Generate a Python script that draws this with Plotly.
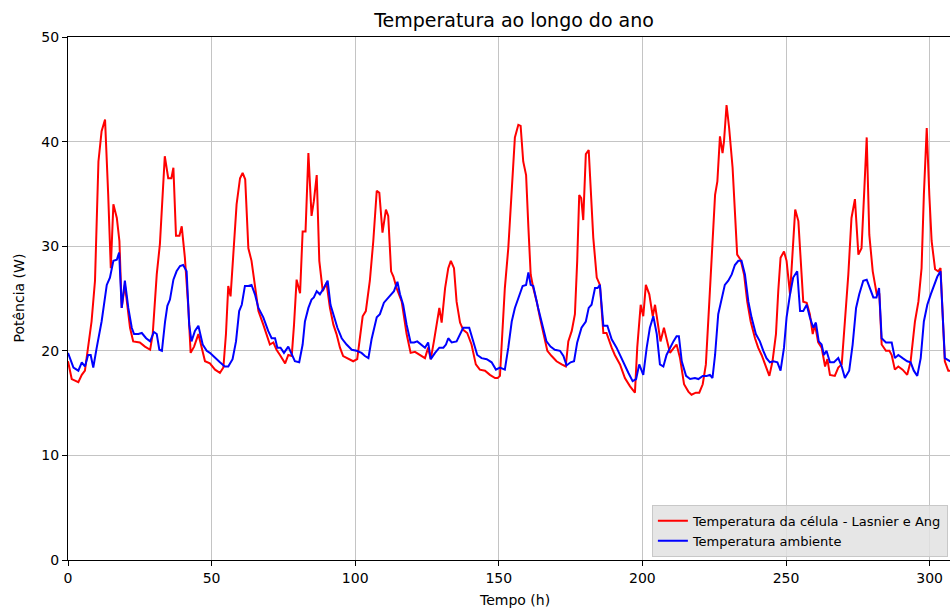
import plotly.graph_objects as go

# ---- data (hour, value) ----
cell_hours = [0, 1.3, 3.6, 4.8, 5.9, 7, 8.2, 9.4, 10.6, 11.7, 12.9, 14, 14.9, 15.8, 17, 17.9, 18.7, 19.8,
              21.6, 22.7, 25, 26.8, 28.6, 29.5, 30.9, 32, 33.7, 34.9, 36, 36.7, 37.6, 38.8, 39.6, 40.7,
              41.9, 42.7, 43.9, 45.4, 46.5, 47.7, 49.4, 51.2, 52.9, 54.1, 55, 55.8, 56.6, 57.5, 58.7,
              59.9, 60.8, 61.7, 62.8, 63.9, 65.1, 66.3, 68, 69.2, 70.3, 71.5, 72.6, 73.8, 75.6, 76.7,
              77.9, 78.7, 79.6, 80.8, 81.7, 82.7, 83.7, 84.8, 85.6, 86.6, 87.5, 88.7, 90.0, 91.2, 92.4,
              93.5, 94.7, 95.8, 97.6, 99.3, 100.7, 101.7, 102.6, 103.7, 105.1, 106.3, 107.5, 108.4,
              109.5, 110.7, 111.5, 112.5, 113.3, 114.4, 116.2, 117.9, 119.3, 120.8, 122.5, 124.3,
              125.4, 126.3, 127.4, 128.4, 129.3, 130.1, 131.3, 132.4, 133.3, 134.4, 135.3, 136.5,
              137.6, 139, 140.5, 142, 143.4, 145.2, 146.9, 148.7, 149.6, 150.4, 151, 152.1, 153.3,
              154.5, 155.6, 156.8, 157.6, 158.5, 159.5, 160.3, 161.1, 162, 163.2, 164.3, 165.5, 166.9,
              168.4, 170.1, 171.9, 173.3, 174.2, 175.4, 176.5, 177.3, 178, 178.7, 179.4, 180.3, 181.3,
              182, 182.9, 184.1, 185.2, 186.4, 187.5, 189.3, 190.4, 192.2, 193.9, 195.7, 197.4, 198.2,
              199.4, 200.3, 201.2, 202.4, 203.6, 204.4, 205.5, 206.3, 207.5, 208.7, 209.6, 211, 211.9,
              213.1, 214.5, 216, 217.1, 218.6, 219.8, 221, 222.1, 223.3, 224.4, 225.3, 226.1, 227,
              227.9, 228.4, 229.3, 230.2, 231.4, 232.2, 233, 234.2, 235.4, 236.5, 237.7, 239.2, 240.3,
              241.5, 243, 244.2, 245.3, 246.5, 247.3, 248.1, 249.3, 250.2, 251.4, 252.3, 253.2, 254.3,
              255.1, 256, 257.2, 258.3, 259.3, 260.1, 261.2, 262.4, 263.6, 264.4, 265.3, 267, 268.2,
              269.4, 270.5, 271.7, 272.8, 274, 275.2, 276.3, 277.3, 278.1, 279, 280.2, 281.6, 282.5,
              283.3, 284.8, 286, 286.8, 287.9, 289.1, 290.6, 292.2, 293.4, 294.9, 296.1, 297.2, 298,
              299, 299.9, 300.7, 301.9, 303, 303.8, 304.8, 305.3, 306.5, 307.1, 310]
cell_temp = [19.0, 17.3, 17.0, 17.7, 18.1, 20.6, 22.8, 26.7, 38.1, 41.0, 42.1, 34.9, 27.9, 34.0, 32.7, 30.5, 24.1, 26.3,
             22.2, 20.9, 20.8, 20.4, 20.1, 21.6, 27.3, 30.2, 38.6, 36.5, 36.5, 37.5, 31.0, 31.0, 31.9, 28.9,
             24.1, 19.8, 20.4, 21.6, 20.3, 19.0, 18.8, 18.2, 17.9, 18.4, 21.6, 26.2, 25.2, 29.2, 34.0,
             36.5, 37.0, 36.4, 29.8, 28.6, 26.3, 23.8, 22.5, 21.6, 20.6, 20.8, 20.1, 19.6, 18.8, 19.6,
             19.5, 22.5, 26.8, 25.5, 31.4, 31.4, 38.9, 32.9, 34.3, 36.8, 28.6, 25.7, 26.5, 24.1, 22.5,
             21.6, 20.3, 19.5, 19.2, 19.0, 19.2, 21.6, 23.3, 23.8, 26.7, 30.5, 35.3, 35.1,
             31.3, 33.5, 32.9, 27.6, 27.1, 26.0, 24.7, 21.6, 19.8, 19.9, 19.6, 19.3,
             20.3, 19.2, 20.9, 22.8, 24.1, 22.7, 26.0, 27.9, 28.6, 27.9, 24.7, 22.7,
             22.0, 21.7, 20.6, 18.7, 18.2, 18.1, 17.7, 17.4, 17.4, 17.6, 20.3, 26.0, 29.8,
             35.6, 40.4, 41.6, 41.5, 38.1, 36.8, 31.8, 27.3, 26.0, 24.7, 23.2, 21.6, 20.0,
             19.5, 19.0, 18.7, 18.5, 20.9, 21.9, 23.5, 28.6, 34.9, 34.6, 32.5, 38.8, 39.2,
             34.9, 30.8, 27.0, 26.3, 21.7, 21.7, 20.3, 19.6, 18.7, 17.4, 16.6, 16.0, 20.3,
             24.4, 23.3, 26.3, 25.4, 23.3, 24.4, 22.2, 20.9, 22.2, 20.9, 19.8, 20.3, 20.6,
             19.3, 16.8, 16.1, 15.8, 16.0, 16.0, 16.8, 18.7, 24.7, 31.1, 34.9, 36.2, 40.5,
             38.9, 40.0, 43.5, 41.3, 37.5, 33.0, 29.2, 28.7, 27.3, 24.7, 22.8, 21.2, 20.3,
             19.6, 18.5, 17.6, 19.0, 21.6, 25.7, 28.9, 29.5, 28.6, 25.4, 29.2, 33.5, 32.4,
             28.6, 24.7, 24.6, 23.5, 21.6, 22.5, 20.8, 20.3, 18.5, 19.2, 17.7, 17.6, 18.4,
             18.7, 22.8, 27.3, 32.7, 34.5, 29.2, 29.8, 35.6, 40.4, 31.1, 27.6, 25.4, 25.4,
             20.6, 20.0, 20.0, 19.6, 18.2, 18.5, 18.2, 17.7, 19.0, 22.8, 24.7, 27.9, 34.9,
             41.3, 34.9, 30.5, 27.8, 27.6, 27.9, 22.2, 19.0, 18.1, 18.1, 18.0]

amb_hours = [0, 1.9, 3.6, 4.8, 5.9, 7, 7.9, 8.8, 10, 11.7, 13.5, 14.6, 15.8, 17, 17.8, 18.7, 19.8, 21, 22.2,
             23, 24.5, 25.7, 27.2, 28.6, 29.9, 30.9, 31.8, 32.7, 33.8, 34.6, 35.5, 36.7, 37.8, 39, 40.1,
             41.3, 42.2, 43, 44.2, 45.4, 46.9, 48.3, 49.4, 51.2, 52.9, 54.6, 55.8, 57.3, 58.5, 59.6,
             60.5, 61.6, 62.8, 63.9, 65.1, 66.3, 68, 69.7, 70.9, 72.1, 72.9, 74, 75.2, 76.7, 77.9, 79,
             80.5, 81.7, 82.5, 83.7, 84.8, 85.6, 86.6, 87.7, 89.1, 90.4, 91.4, 92.6, 93.8, 95.3, 97,
             98.8, 100.5, 102.2, 103.4, 104.6, 105.7, 107.5, 108.6, 110, 111.5, 112.7, 113.5, 114.7,
             115.6, 116.7, 117.9, 119.3, 120.5, 121.6, 122.8, 124.3, 125.4, 126.3, 127.8, 129.3,
             130.7, 131.6, 132.4, 133.6, 135.3, 136.5, 137.6, 139.7, 141.1, 142.5, 144, 145.8, 147.5,
             149, 150.4, 152.1, 153.3, 154.5, 155.6, 156.8, 158.3, 159.5, 160.3, 161.1, 162, 163.7,
             165.3, 166.6, 168, 169.5, 171.3, 172.5, 173.6, 175, 176.2, 177.3, 178.8, 180.3, 181.3,
             182.3, 183.5, 184.4, 185.2, 186.4, 187.8, 189.3, 191, 192.2, 193.9, 195.1, 196.6, 197.8,
             198.9, 200.3, 201.5, 202.6, 203.8, 205, 206.1, 207.3, 208.4, 209.6, 210.8, 211.9, 212.7,
             213.7, 215.2, 216.6, 218.3, 219.5, 221, 222.4, 223.5, 224.4, 225.3, 226.4, 227.6, 228.7,
             229.9, 231.1, 232.2, 233.4, 234.5, 235.7, 236.9, 238, 239.5, 240.9, 242.1, 243.2, 244.4,
             245.6, 247, 248.1, 249.3, 250.2, 251.4, 252.5, 253.9, 254.9, 256, 257.2, 258.3, 259.5,
             260.4, 261.4, 262.4, 263.2, 264.1, 265.3, 266.7, 268.2, 269.4, 270.5, 272, 273.2, 274.4,
             275.5, 276.9, 278.1, 279.2, 280.4, 281.5, 282.4, 283.3, 284.8, 286, 286.8, 287.9, 289.1,
             290.6, 292.2, 293.4, 294.5, 295.7, 296.9, 298, 299.2, 300.4, 301.5, 302.7, 303.8, 304.8,
             305.3, 307.1, 310]
amb_temp = [19.8, 18.4, 18.1, 18.9, 18.5, 19.6, 19.6, 18.4, 20.3, 22.8, 26.3, 27.0, 28.6, 28.7, 29.4, 24.1, 26.7, 24.1, 22.2,
            21.6, 21.6, 21.7, 21.2, 20.9, 21.8, 21.6, 20.1, 20.0, 22.8, 24.3, 24.9, 26.8, 27.6, 28.1, 28.2,
            27.6, 22.5, 20.9, 21.9, 22.4, 20.6, 20.0, 19.8, 19.3, 18.9, 18.5, 18.5, 19.2, 20.9, 23.8,
            24.4, 26.2, 26.2, 26.3, 25.4, 24.1, 23.2, 21.9, 21.2, 21.2, 20.3, 20.3, 19.8, 20.4, 19.6, 19.0,
            18.9, 20.6, 22.8, 24.1, 24.9, 25.1, 25.7, 25.4, 26.0, 26.7, 24.4, 23.2, 22.2, 21.2, 20.6,
            20.1, 20.0, 19.8, 19.5, 19.3, 21.1, 23.2, 23.5, 24.6, 25.1, 25.4, 25.7, 26.6,
            25.4, 24.4, 22.5, 20.8, 20.8, 20.9, 20.6, 20.3, 20.8, 19.2, 19.8, 20.3,
            20.3, 20.6, 21.2, 20.8, 20.9, 21.6, 22.2, 22.2, 20.9, 19.6, 19.3, 19.2, 18.9,
            18.2, 18.4, 18.2, 20.3, 22.8, 24.1, 25.1, 26.2, 26.3, 27.5, 26.3, 26.2, 24.1,
            22.2, 20.9, 20.4, 20.1, 20.0, 19.5, 18.6, 18.9, 19.0, 20.8, 22.2, 22.8, 24.1,
            24.4, 26.0, 26.0, 26.3, 22.4, 22.4, 21.1, 20.3, 19.6, 18.5, 17.9, 17.1, 17.3,
            18.7, 17.7, 20.3, 22.2, 23.3, 21.6, 18.7, 18.5, 19.6, 20.3, 20.9, 21.4, 21.4,
            19.0, 17.6, 17.3, 17.4, 17.3, 17.6, 17.6, 17.7, 17.4, 19.6, 23.5, 25.1, 26.3,
            26.7, 27.3, 28.2, 28.6, 28.6, 27.3, 24.7, 23.2, 21.6, 20.9, 20.0, 19.3, 18.9,
            19.0, 18.9, 18.1, 20.3, 23.2, 25.4, 27.0, 27.6, 23.8, 23.8, 24.4, 23.2, 22.2,
            22.7, 20.9, 20.6, 19.6, 20.0, 18.9, 18.9, 19.3, 18.5, 17.4, 18.1, 20.6, 24.1,
            25.4, 26.7, 26.8, 26.0, 25.1, 25.1, 26.0, 21.2, 20.8, 20.8, 20.8, 19.3, 19.6,
            19.3, 19.0, 18.9, 18.1, 17.6, 19.3, 22.8, 24.4, 25.4, 26.3, 27.1, 27.6, 22.2,
            19.3, 19.0, 19.0]

x_ticks = [0, 50, 100, 150, 200, 250, 300]
y_ticks = [0, 10, 20, 30, 40, 50]

FONT = "DejaVu Sans"

fig = go.Figure()
fig.add_trace(go.Scatter(x=cell_hours, y=cell_temp, mode="lines",
                         name="Temperatura da célula - Lasnier e Ang",
                         line=dict(color="#ff0000", width=2)))
fig.add_trace(go.Scatter(x=amb_hours, y=amb_temp, mode="lines",
                         name="Temperatura ambiente",
                         line=dict(color="#0000ff", width=2)))

fig.update_layout(
    width=950, height=610,
    margin=dict(l=68, r=0, t=37, b=50, autoexpand=False),
    plot_bgcolor="white", paper_bgcolor="white",
    font=dict(family=FONT, color="#000000", size=14),
    title=dict(text="Temperatura ao longo do ano", xref="paper", x=0.5057, xanchor="center",
               yref="container", y=1 - 20 / 610, yanchor="middle",
               font=dict(family=FONT, size=19, color="#000000")),
    xaxis=dict(range=[0, 307.1], tickvals=x_ticks, showgrid=True, gridcolor="#c4c4c4", gridwidth=1,
               zeroline=False, showline=True, linecolor="#000000", linewidth=1, mirror=True,
               ticks="outside", ticklen=5, tickcolor="#000000", tickfont=dict(size=14)),
    yaxis=dict(range=[0, 50], tickvals=y_ticks, showgrid=True, gridcolor="#c4c4c4", gridwidth=1,
               zeroline=False, showline=True, linecolor="#000000", linewidth=1, mirror=False,
               ticks="outside", ticklen=5, tickcolor="#000000", tickfont=dict(size=14)),
    legend=dict(x=0.662, y=0.006, xanchor="left", yanchor="bottom",
                bgcolor="rgba(226,226,226,0.85)", bordercolor="#c8c8c8", borderwidth=1,
                font=dict(family=FONT, size=13, color="#000000"), tracegroupgap=0),
    showlegend=True,
    annotations=[
        dict(text="Tempo (h)", xref="paper", yref="paper", x=0.5057, y=-(600 - 560) / 523,
             xanchor="center", yanchor="middle", showarrow=False, font=dict(family=FONT, size=14)),
        dict(text="Potência (W)", xref="paper", yref="paper", x=-(68 - 18) / 882, y=0.5,
             xanchor="center", yanchor="middle", textangle=-90, showarrow=False,
             font=dict(family=FONT, size=14)),
    ],
)

fig.write_html("out.html")
